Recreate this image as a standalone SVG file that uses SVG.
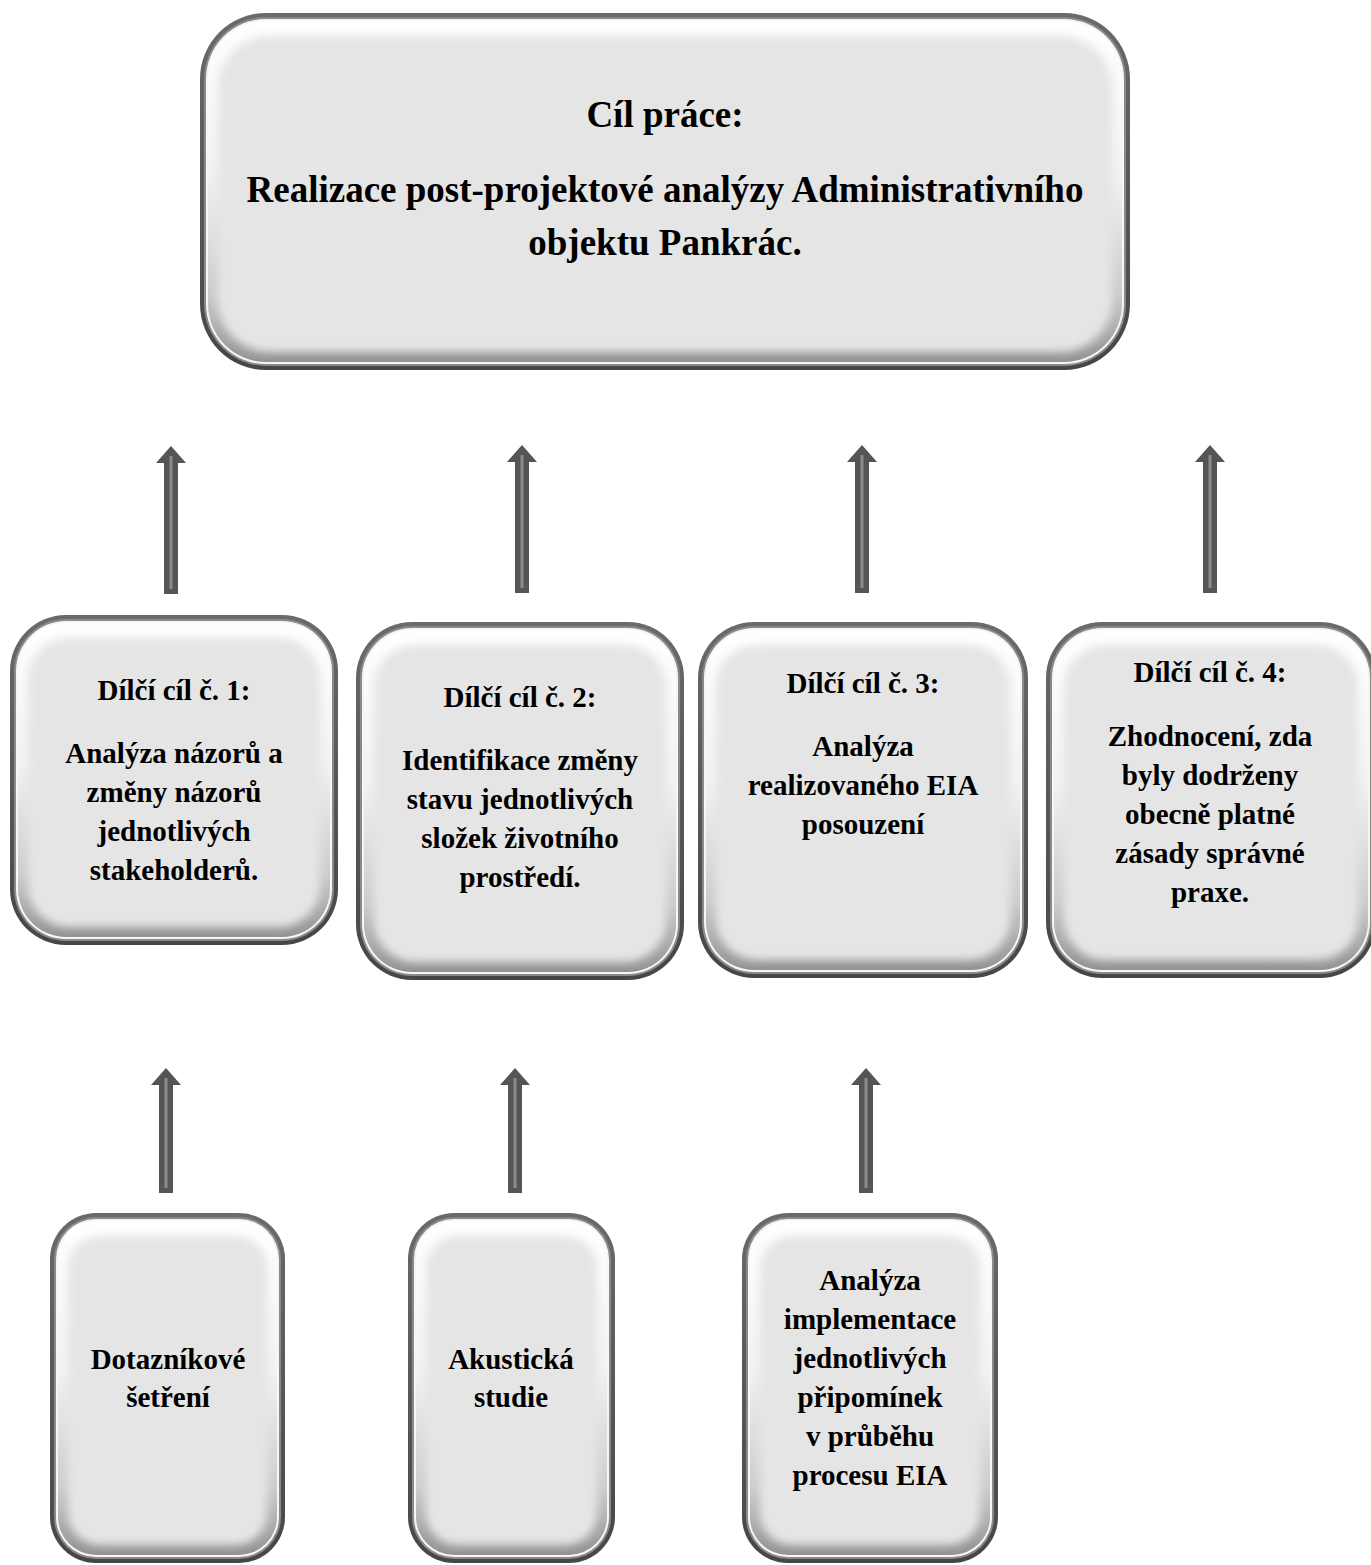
<svg xmlns="http://www.w3.org/2000/svg" width="1371" height="1565" viewBox="0 0 1371 1565">
<defs>
<linearGradient id="bevel" x1="0" y1="0" x2="0" y2="1">
<stop offset="0" stop-color="#ffffff"/>
<stop offset="0.45" stop-color="#f2f2f2"/>
<stop offset="0.8" stop-color="#cccccc"/>
<stop offset="1" stop-color="#929292"/>
</linearGradient>
<linearGradient id="outer" x1="0" y1="0" x2="0" y2="1">
<stop offset="0" stop-color="#6a6a6a"/>
<stop offset="1" stop-color="#464646"/>
</linearGradient>
<filter id="soft" x="-5%" y="-5%" width="110%" height="110%">
<feGaussianBlur stdDeviation="4"/>
</filter>
</defs>
<style>
.o{fill:url(#outer)}
.w{fill:#f6f6f6}
.g{fill:#8a8a8a}
.r{fill:url(#bevel)}
.f{fill:#e5e5e5;filter:url(#soft)}
.t{font-family:"Liberation Serif","Times New Roman",serif;font-weight:bold;font-size:29px;text-anchor:middle;fill:#000}
.big{font-size:37px}
.ah{fill:#555555}
.al{stroke:#8c8c8c;stroke-width:3;fill:none}
</style>
<rect width="1371" height="1565" fill="#ffffff"/>

<g id="goal">
<rect class="o" x="200" y="13" width="930" height="357" rx="66"/>
<rect class="g" x="204" y="17" width="922" height="349" rx="62"/>
<rect class="w" x="206" y="19" width="918" height="345" rx="60"/>
<rect class="r" x="208" y="21" width="914" height="341" rx="58"/>
<rect class="f" x="218" y="36" width="894" height="316" rx="51"/>
<text class="t big" x="665" y="127">Cíl práce:</text>
<text class="t big" x="665" y="202">Realizace post-projektové analýzy Administrativního</text>
<text class="t big" x="665" y="255">objektu Pankrác.</text>
</g>

<g id="sub1">
<rect class="o" x="10" y="615" width="328" height="330" rx="56"/>
<rect class="g" x="14" y="619" width="320" height="322" rx="52"/>
<rect class="w" x="16" y="621" width="316" height="318" rx="50"/>
<rect class="r" x="18" y="623" width="312" height="314" rx="48"/>
<rect class="f" x="28" y="638" width="292" height="289" rx="41"/>
<text class="t" x="174" y="700">Dílčí cíl č. 1:</text>
<text class="t" x="174" y="763">Analýza názorů a</text>
<text class="t" x="174" y="802">změny názorů</text>
<text class="t" x="174" y="841">jednotlivých</text>
<text class="t" x="174" y="880">stakeholderů.</text>
</g>

<g id="sub2">
<rect class="o" x="356" y="622" width="328" height="358" rx="56"/>
<rect class="g" x="360" y="626" width="320" height="350" rx="52"/>
<rect class="w" x="362" y="628" width="316" height="346" rx="50"/>
<rect class="r" x="364" y="630" width="312" height="342" rx="48"/>
<rect class="f" x="374" y="645" width="292" height="317" rx="41"/>
<text class="t" x="520" y="707">Dílčí cíl č. 2:</text>
<text class="t" x="520" y="770">Identifikace změny</text>
<text class="t" x="520" y="809">stavu jednotlivých</text>
<text class="t" x="520" y="848">složek životního</text>
<text class="t" x="520" y="887">prostředí.</text>
</g>

<g id="sub3">
<rect class="o" x="698" y="622" width="330" height="356" rx="56"/>
<rect class="g" x="702" y="626" width="322" height="348" rx="52"/>
<rect class="w" x="704" y="628" width="318" height="344" rx="50"/>
<rect class="r" x="706" y="630" width="314" height="340" rx="48"/>
<rect class="f" x="716" y="645" width="294" height="315" rx="41"/>
<text class="t" x="863" y="693">Dílčí cíl č. 3:</text>
<text class="t" x="863" y="756">Analýza</text>
<text class="t" x="863" y="795">realizovaného EIA</text>
<text class="t" x="863" y="834">posouzení</text>
</g>

<g id="sub4">
<rect class="o" x="1046" y="622" width="330" height="356" rx="56"/>
<rect class="g" x="1050" y="626" width="322" height="348" rx="52"/>
<rect class="w" x="1052" y="628" width="318" height="344" rx="50"/>
<rect class="r" x="1054" y="630" width="314" height="340" rx="48"/>
<rect class="f" x="1064" y="645" width="294" height="315" rx="41"/>
<text class="t" x="1210" y="682">Dílčí cíl č. 4:</text>
<text class="t" x="1210" y="746">Zhodnocení, zda</text>
<text class="t" x="1210" y="785">byly dodrženy</text>
<text class="t" x="1210" y="824">obecně platné</text>
<text class="t" x="1210" y="863">zásady správné</text>
<text class="t" x="1210" y="902">praxe.</text>
</g>

<g id="method1">
<rect class="o" x="50" y="1213" width="235" height="350" rx="46"/>
<rect class="g" x="54" y="1217" width="227" height="342" rx="42"/>
<rect class="w" x="56" y="1219" width="223" height="338" rx="40"/>
<rect class="r" x="58" y="1221" width="219" height="334" rx="38"/>
<rect class="f" x="68" y="1236" width="199" height="309" rx="32"/>
<text class="t" x="168" y="1369">Dotazníkové</text>
<text class="t" x="168" y="1407">šetření</text>
</g>

<g id="method2">
<rect class="o" x="408" y="1213" width="207" height="350" rx="46"/>
<rect class="g" x="412" y="1217" width="199" height="342" rx="42"/>
<rect class="w" x="414" y="1219" width="195" height="338" rx="40"/>
<rect class="r" x="416" y="1221" width="191" height="334" rx="38"/>
<rect class="f" x="426" y="1236" width="171" height="309" rx="32"/>
<text class="t" x="511" y="1369">Akustická</text>
<text class="t" x="511" y="1407">studie</text>
</g>

<g id="method3">
<rect class="o" x="742" y="1213" width="256" height="350" rx="46"/>
<rect class="g" x="746" y="1217" width="248" height="342" rx="42"/>
<rect class="w" x="748" y="1219" width="244" height="338" rx="40"/>
<rect class="r" x="750" y="1221" width="240" height="334" rx="38"/>
<rect class="f" x="760" y="1236" width="220" height="309" rx="32"/>
<text class="t" x="870" y="1290">Analýza</text>
<text class="t" x="870" y="1329">implementace</text>
<text class="t" x="870" y="1368">jednotlivých</text>
<text class="t" x="870" y="1407">připomínek</text>
<text class="t" x="870" y="1446">v průběhu</text>
<text class="t" x="870" y="1485">procesu EIA</text>
</g>

<g id="connectors">
<polygon class="ah" points="171,446 186,463 178,463 178,594 164,594 164,463 156,463"/>
<line class="al" x1="171" y1="456" x2="171" y2="589"/>
<polygon class="ah" points="522,445 537,462 529,462 529,593 515,593 515,462 507,462"/>
<line class="al" x1="522" y1="455" x2="522" y2="588"/>
<polygon class="ah" points="862,445 877,462 869,462 869,593 855,593 855,462 847,462"/>
<line class="al" x1="862" y1="455" x2="862" y2="588"/>
<polygon class="ah" points="1210,445 1225,462 1217,462 1217,593 1203,593 1203,462 1195,462"/>
<line class="al" x1="1210" y1="455" x2="1210" y2="588"/>
<polygon class="ah" points="166,1068 181,1085 173,1085 173,1193 159,1193 159,1085 151,1085"/>
<line class="al" x1="166" y1="1078" x2="166" y2="1188"/>
<polygon class="ah" points="515,1068 530,1085 522,1085 522,1193 508,1193 508,1085 500,1085"/>
<line class="al" x1="515" y1="1078" x2="515" y2="1188"/>
<polygon class="ah" points="866,1068 881,1085 873,1085 873,1193 859,1193 859,1085 851,1085"/>
<line class="al" x1="866" y1="1078" x2="866" y2="1188"/>
</g>
</svg>
